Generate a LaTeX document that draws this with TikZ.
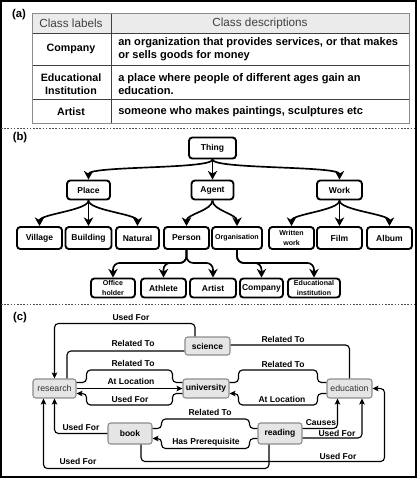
\documentclass[tikz,border=0pt]{standalone}
\usepackage{fontspec}
\setmainfont{Liberation Sans}
\usetikzlibrary{arrows.meta,calc}
\begin{document}
\begin{tikzpicture}[x=0.75pt,y=-0.75pt,
  sec/.style={font=\bfseries\fontsize{8.5}{10}\selectfont, inner sep=0pt},
  hdr/.style={font=\fontsize{8.8}{9.4}\selectfont, text=black!75, inner sep=0pt},
  rowlbl/.style={font=\bfseries\fontsize{8}{9.4}\selectfont, align=center, inner sep=0pt},
  rowdesc/.style={font=\bfseries\fontsize{8.3}{9.4}\selectfont, align=left, anchor=west, inner sep=0pt},
  tnode/.style={draw, line width=1.4pt, rounded corners=2.5pt, fill=white, inner sep=0pt, align=center, font=\bfseries\fontsize{6.4}{7}\selectfont},
  tsmall/.style={font=\bfseries\fontsize{5.3}{6.8}\selectfont},
  tedge/.style={line width=1.25pt, -{Stealth[length=6.5pt,width=7pt,inset=2pt]}},
  cnode/.style={draw=black!45, fill=black!10, line width=0.8pt, rounded corners=2pt, inner sep=0pt, font=\bfseries\fontsize{6.4}{7}\selectfont},
  cthin/.style={font=\fontsize{6.6}{7}\selectfont, text=black!80},
  cline/.style={line width=0.85pt, rounded corners=3pt},
  carrow/.style={cline, -{Stealth[length=4.5pt,width=4.2pt,inset=1pt]}},
  clabel/.style={font=\bfseries\fontsize{6.4}{7}\selectfont, inner sep=0pt},
  divider/.style={black!70, line width=0.5pt, dash pattern=on 1.2pt off 1.2pt}
]
\useasboundingbox (0,0) rectangle (419,480);
\draw[line width=0.8pt] (1,1) rectangle (416,477);
\draw[divider] (1,128) -- (416,128);
\draw[divider] (1,304) -- (416,304);

% ---------- (a) table ----------
\node[sec] (la) at (19,15) {(a)};
\fill[black!8] (32,13) rectangle (409,33);
\draw[black!75, line width=0.7pt] (32,33) -- (409,33) (32,65) -- (409,65) (32,99) -- (409,99) (111,13) -- (111,123);
\draw[black!45, line width=0.7pt] (32,13) rectangle (409,123);
\node[hdr] (h1) at (71,23) {Class labels};
\node[hdr] (h2) at (260,23) {Class descriptions};
\node[rowlbl] (r1) at (71,49) {Company};
\node[rowdesc] (d1) at (118,49) {an organization that provides services, or that makes\\or sells goods for money};
\node[rowlbl] (r2) at (71,84) {Educational\\Institution};
\node[rowdesc] (d2) at (118,84) {a place where people of different ages gain an\\education.};
\node[rowlbl] (r3) at (71,112) {Artist};
\node[rowdesc] (d3) at (118,112) {someone who makes paintings, sculptures etc};

% ---------- (b) tree ----------
\node[sec] (lb) at (20,138) {(b)};
\node[tnode, minimum width=35.25pt, minimum height=15.75pt] (thing) at (212.5,148) {Thing};
\node[tnode, minimum width=32.25pt, minimum height=14.25pt] (place) at (88.5,190) {Place};
\node[tnode, minimum width=31.5pt, minimum height=14.25pt] (agent) at (212.5,190) {Agent};
\node[tnode, minimum width=33.75pt, minimum height=14.25pt] (work) at (339.5,190) {Work};

\node[tnode, minimum width=33.75pt, minimum height=16.5pt] (village) at (39.5,238) {Village};
\node[tnode, minimum width=34.5pt, minimum height=16.5pt] (building) at (88.5,238) {Building};
\node[tnode, minimum width=32.25pt, minimum height=16.5pt] (natural) at (137.5,238) {Natural};
\node[tnode, minimum width=33.75pt, minimum height=16.5pt] (person) at (186.5,238) {Person};
\node[tnode, minimum width=37.5pt, minimum height=16.5pt, font=\bfseries\fontsize{5.3}{6}\selectfont] (org) at (237,238) {Organisation};
\node[tnode, tsmall, minimum width=33.75pt, minimum height=16.5pt] (written) at (291.5,238) {Written\\work};
\node[tnode, minimum width=33.75pt, minimum height=16.5pt] (film) at (339.5,238) {Film};
\node[tnode, minimum width=33.75pt, minimum height=16.5pt] (album) at (389.5,238) {Album};

\node[tnode, tsmall, minimum width=33pt, minimum height=14.25pt] (office) at (113,288) {Office\\holder};
\node[tnode, minimum width=33.75pt, minimum height=14.25pt] (athlete) at (163.5,288) {Athlete};
\node[tnode, minimum width=34.5pt, minimum height=14.25pt] (artist) at (213,288) {Artist};
\node[tnode, minimum width=32.25pt, minimum height=14.25pt] (company) at (261.5,288) {Company};
\node[tnode, tsmall, minimum width=39pt, minimum height=14.25pt] (edinst) at (314,288) {Educational\\institution};

\draw[tedge] (thing.south) .. controls +(0,10) and +(0,-14) .. (place.north);
\draw[tedge] (thing.south) -- (agent.north);
\draw[tedge] (thing.south) .. controls +(0,10) and +(0,-14) .. (work.north);

\draw[tedge] (place.south) .. controls +(0,10) and +(0,-12) .. (village.north);
\draw[tedge] (place.south) -- (building.north);
\draw[tedge] (place.south) .. controls +(0,10) and +(0,-12) .. (natural.north);

\draw[tedge] (agent.south) .. controls +(0,10) and +(0,-12) .. (person.north);
\draw[tedge] (agent.south) .. controls +(0,10) and +(0,-12) .. (org.north);

\draw[tedge] (work.south) .. controls +(0,10) and +(0,-12) .. (written.north);
\draw[tedge] (work.south) -- (film.north);
\draw[tedge] (work.south) .. controls +(0,10) and +(0,-12) .. (album.north);

\draw[tedge, rounded corners=5pt] (person.south) -- ++(0,13) -| (office.north);
\draw[tedge, rounded corners=5pt] (person.south) -- ++(0,13) -| (athlete.north);
\draw[tedge, rounded corners=5pt] (person.south) -- ++(0,13) -| (artist.north);
\draw[tedge, rounded corners=5pt] (org.south) -- ++(0,13) -| (company.north);
\draw[tedge, rounded corners=5pt] (org.south) -- ++(0,13) -| (edinst.north);

% ---------- (c) graph ----------
\node[sec] (lc) at (20,318) {(c)};
\node[cnode, minimum width=33.75pt, minimum height=13.5pt] (science) at (207.5,346) {science};
\node[cnode, cthin, minimum width=32.25pt, minimum height=14.25pt] (research) at (54.5,388.5) {research};
\node[cnode, minimum width=34.5pt, minimum height=14.25pt] (university) at (206,388.5) {university};
\node[cnode, cthin, minimum width=33.75pt, minimum height=14.25pt] (education) at (349.5,388.5) {education};
\node[cnode, minimum width=33pt, minimum height=15.75pt] (book) at (130,433.5) {book};
\node[cnode, minimum width=33pt, minimum height=15.75pt] (reading) at (280,433.5) {reading};

\draw[carrow] ($(science.north)+(-12.5,0)$) -- ++(0,-13) -| (research.north);
\node[clabel] (l1) at (131,317) {Used For};

\draw[cline] ($(science.west)+(0,5)$) -| ($(research.north)+(12.5,0)$);
\node[clabel] (l2) at (133,343) {Related To};

\draw[cline] ($(science.east)+(0,-1)$) -| (education.north);
\node[clabel] (l3) at (283,339) {Related To};

\draw[cline] ($(research.east)+(0,-6)$) -- ++(10,0) -- ++(0,-12.5) -| ($(university.west)+(-10,-6)$) -- ($(university.west)+(0,-6)$);
\node[clabel] (l4) at (133,363) {Related To};

\draw[carrow] (research.east) -- (university.west);
\node[clabel] (l5) at (131,381) {At Location};

\draw[carrow] ($(university.west)+(0,5)$) -- ++(-10,0) -- ++(0,11.5) -| ($(research.east)+(10,5)$) -- ($(research.east)+(0,5)$);
\node[clabel] (l6) at (130,399) {Used For};

\draw[cline] ($(university.east)+(0,-6)$) -- ++(9,0) -- ++(0,-12.5) -| ($(education.west)+(-9,-6)$) -- ($(education.west)+(0,-6)$);
\node[clabel] (l7) at (283,364) {Related To};

\draw[carrow] ($(education.west)+(0,5)$) -- ++(-9,0) -- ++(0,11.5) -| ($(university.east)+(9,5)$) -- ($(university.east)+(0,5)$);
\node[clabel] (l8) at (282,399) {At Location};

\draw[carrow] (book.west) -| (research.south);
\node[clabel] (l9) at (81,427) {Used For};

\draw[cline] ($(reading.west)+(0,-5)$) -- ++(-8,0) -- ++(0,-9.5) -| ($(book.east)+(9,-5)$) -- ($(book.east)+(0,-5)$);
\node[clabel] (l10) at (210,412) {Related To};

\draw[carrow] ($(reading.west)+(0,5)$) -- ++(-8,0) -- ++(0,10) -| ($(book.east)+(9,5)$) -- ($(book.east)+(0,5)$);
\node[clabel] (l11) at (206,442) {Has Prerequisite};

\draw[carrow] ($(reading.east)+(0,-5)$) -| ($(education.south)+(-12,0)$);
\node[clabel] (l12) at (321,423) {Causes};

\draw[carrow] ($(reading.east)+(0,4.5)$) -| ($(education.south)+(12.5,0)$);
\node[clabel] (l13) at (337,433) {Used For};

\draw[carrow] ($(book.south)+(11,0)$) -- ++(0,17) -| ($(education.east)+(12,0)$) -- (education.east);
\node[clabel] (l14) at (338,456) {Used For};

\draw[carrow] ($(reading.south)+(-11,0)$) -- ++(0,24) -| ($(research.south)+(-11,0)$);
\node[clabel] (l15) at (78,461) {Used For};
\end{tikzpicture}
\end{document}
